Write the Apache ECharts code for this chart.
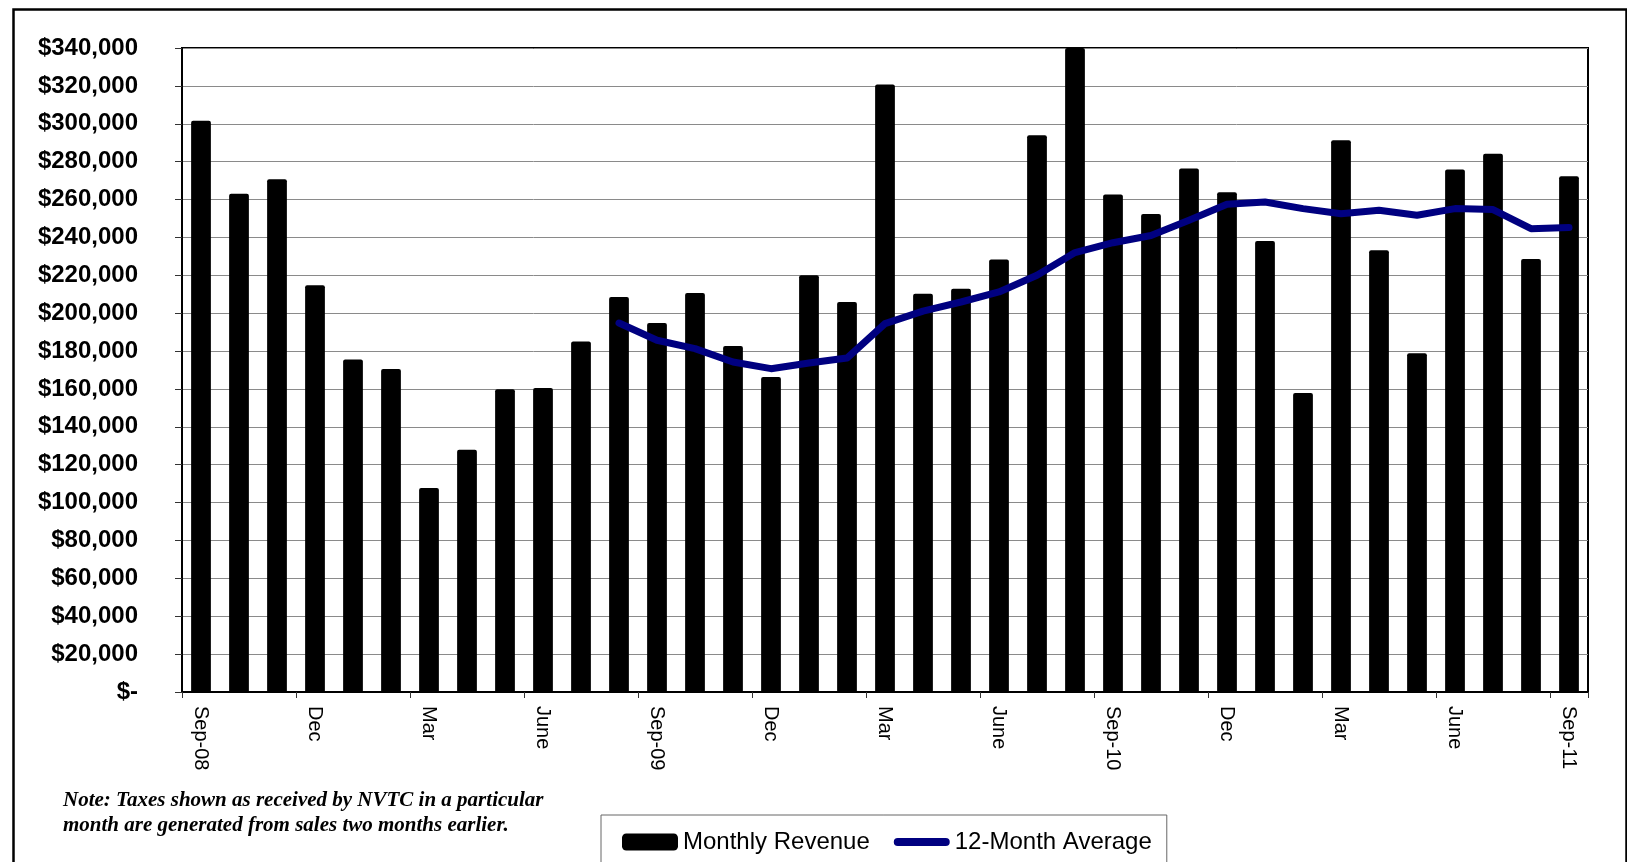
<!DOCTYPE html>
<html>
<head>
<meta charset="utf-8">
<title>NVTC Monthly Revenue</title>
<script src="https://cdn.jsdelivr.net/npm/echarts@6/dist/echarts.min.js"></script>
<style>
  html, body { margin: 0; padding: 0; background: #fff; }
  #chart { width: 1627px; height: 862px; }
</style>
</head>
<body>
<div id="chart"></div>
<script>
// Months from Sep-08 through Sep-11; every third one is labelled on the axis
const categories = [
  'Sep-08', 'Oct', 'Nov', 'Dec', 'Jan', 'Feb', 'Mar', 'Apr', 'May', 'June', 'July', 'Aug',
  'Sep-09', 'Oct', 'Nov', 'Dec', 'Jan', 'Feb', 'Mar', 'Apr', 'May', 'June', 'July', 'Aug',
  'Sep-10', 'Oct', 'Nov', 'Dec', 'Jan', 'Feb', 'Mar', 'Apr', 'May', 'June', 'July', 'Aug',
  'Sep-11'
];

// Monthly tax revenue received (dollars)
const monthlyRevenue = [
  301600, 263000, 270700, 214700, 175600, 170500, 107700, 127900, 159900, 160500, 185000, 208500,
  194800, 210600, 182700, 166300, 220000, 205900, 320700, 210300, 212900, 228300, 293900, 352000,
  262600, 252400, 276400, 263800, 238100, 157800, 291300, 233200, 178800, 275800, 284200, 228600,
  272300
];

// Trailing 12-month average (starts once a full year is available)
const twelveMonthAverage = [
  null, null, null, null, null, null, null, null, null, null, null, 194800,
  185700, 181300, 174200, 170700, 173700, 176300, 194500, 201100, 205900, 211200, 220000, 232000,
  237200, 241000, 249000, 257500, 258700, 255200, 252500, 254300, 251700, 255200, 254700, 244600,
  245200
];

// Value axis settings
const yMin = 0;
const yMax = 340000;
const yStep = 20000;

const noteLines = [
  'Note: Taxes shown as received by NVTC in a particular',
  'month are generated from sales two months earlier.'
];

// Thick rounded bar used as the legend key of the average line
const lineKeyIcon = 'path://M4,0 H52 A4,4 0 0 1 52,8 H4 A4,4 0 0 1 4,0 Z';

const chart = echarts.init(document.getElementById('chart'), null, { renderer: 'canvas' });

function moneyLabel(v) {
  if (v === 0) return '$-';
  return '$' + v.toLocaleString('en-US');
}

chart.setOption({
  backgroundColor: '#ffffff',
  animation: false,
  textStyle: { fontFamily: 'Liberation Sans, Arial, sans-serif' },
  grid: {
    left: 182,
    right: 39,
    top: 48,
    height: 644,
    show: true,
    borderColor: '#000',
    borderWidth: 2,
    backgroundColor: 'transparent'
  },
  legend: {
    left: 601,
    top: 815,
    orient: 'horizontal',
    padding: [15, 15, 30, 21],
    itemGap: 24,
    itemWidth: 56,
    itemHeight: 17,
    symbolKeepAspect: true,
    borderColor: '#666',
    borderWidth: 1,
    backgroundColor: '#fff',
    textStyle: { fontSize: 24, color: '#000', fontFamily: 'Liberation Sans, Arial, sans-serif' },
    data: [
      { name: 'Monthly Revenue', icon: 'roundRect' },
      { name: '12-Month Average', icon: lineKeyIcon }
    ]
  },
  xAxis: {
    type: 'category',
    data: categories,
    boundaryGap: true,
    axisLine: { show: true, lineStyle: { color: '#000', width: 2 } },
    axisTick: { show: true, interval: 2, length: 6, alignWithLabel: false, lineStyle: { color: '#333', width: 1 } },
    axisLabel: {
      interval: 2,
      rotate: -90,
      margin: 14,
      fontSize: 20,
      color: '#000',
      fontFamily: 'Liberation Sans, Arial, sans-serif'
    },
    splitLine: { show: false }
  },
  yAxis: {
    type: 'value',
    min: yMin,
    max: yMax,
    interval: yStep,
    axisLine: { show: true, lineStyle: { color: '#000', width: 2 } },
    axisTick: { show: true, length: 7, lineStyle: { color: '#333', width: 1 } },
    axisLabel: {
      formatter: moneyLabel,
      margin: 44,
      fontSize: 24,
      fontWeight: 'bold',
      color: '#000',
      fontFamily: 'Liberation Sans, Arial, sans-serif'
    },
    splitLine: { show: true, lineStyle: { color: '#8a8a8a', width: 1 } }
  },
  series: [
    {
      name: 'Monthly Revenue',
      type: 'bar',
      data: monthlyRevenue,
      barWidth: '52%',
      clip: true,
      itemStyle: { color: '#000', borderRadius: [2, 2, 0, 0] },
      z: 2
    },
    {
      name: '12-Month Average',
      type: 'line',
      data: twelveMonthAverage,
      symbol: 'none',
      smooth: false,
      connectNulls: false,
      lineStyle: { color: '#000080', width: 7, cap: 'round', join: 'round' },
      itemStyle: { color: '#000080' },
      z: 3
    }
  ],
  graphic: [
    {
      type: 'rect',
      left: 11,
      top: 7,
      shape: { width: 1613, height: 900 },
      style: { fill: 'none', stroke: '#000', lineWidth: 2.5 },
      silent: true,
      z: -1
    },
    {
      type: 'text',
      left: 63,
      top: 788,
      style: {
        text: noteLines.join('\n'),
        font: 'italic bold 21px "Liberation Serif", "Times New Roman", serif',
        lineHeight: 25,
        fill: '#000'
      },
      silent: true
    }
  ]
});
</script>
</body>
</html>
